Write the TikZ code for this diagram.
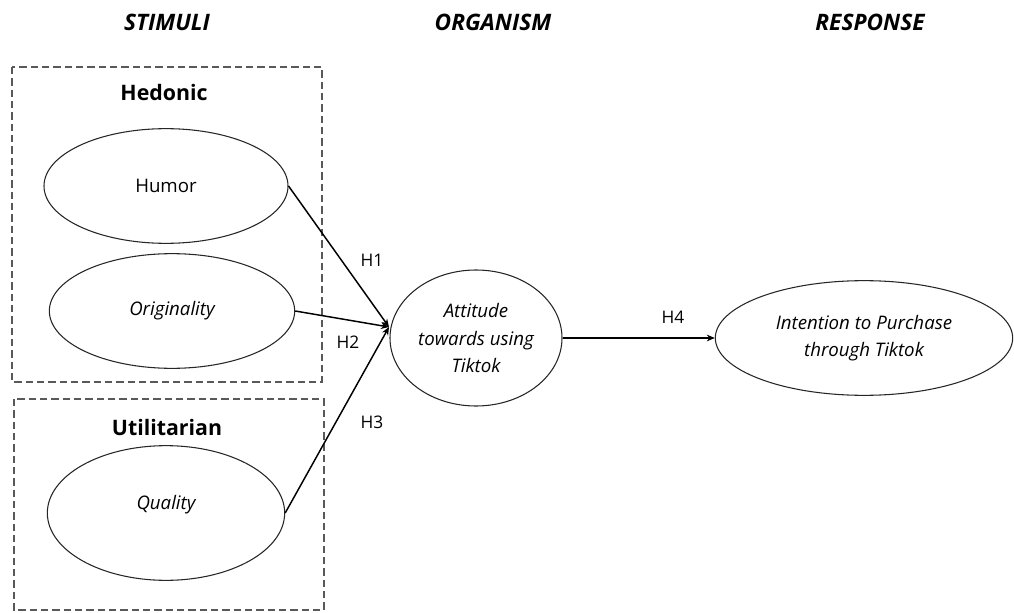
\documentclass[tikz,border=0pt]{standalone}
\usepackage{fontspec}
\setmainfont{Open Sans}
\usetikzlibrary{shapes.geometric,arrows.meta}
\tikzset{
  construct/.style={ellipse,draw=black!85,line width=0.8pt,inner sep=0pt,
    align=center,font=\fontsize{14}{20.6}\selectfont},
  group/.style={draw=black!65,line width=2.2pt,dash pattern=on 5.5pt off 3pt},
  grouptitle/.style={font=\fontsize{16}{19}\selectfont\bfseries},
  heading/.style={font=\fontsize{17}{20}\selectfont\bfseries\itshape},
  hyp/.style={font=\fontsize{13}{16}\selectfont},
  path/.style={-{Stealth[length=6pt,width=5pt]},line width=1.1pt}
}
\begin{document}
\begin{tikzpicture}[x=0.75pt,y=-0.75pt]
      \useasboundingbox (0,0) rectangle (1014,613);
      % headings
      \node[heading] (stim) at (167,22) {STIMULI};
      \node[heading] (org) at (493,22) {ORGANISM};
      \node[heading] (resp) at (870,22) {RESPONSE};
      % groups
      \draw[group] (12,67) rectangle (322,382);
      \draw[group] (14,399) rectangle (324,610);
      \node[grouptitle] (hed) at (164,93) {Hedonic};
      \node[grouptitle] (util) at (167,427) {Utilitarian};
      % constructs
      \node[construct,minimum width=183pt,minimum height=86pt] (humor) at (166,186) {Humor};
      \node[construct,minimum width=184pt,minimum height=86pt] (orig) at (172,311) {\itshape Originality};
      \node[construct,minimum width=178pt,minimum height=101pt,text depth=16pt] (qual) at (166,513) {\itshape Quality};
      \node[construct,minimum width=129pt,minimum height=102pt] (att) at (476,338) {\itshape Attitude\\ \itshape towards using\\ \itshape Tiktok};
      \node[construct,minimum width=223pt,minimum height=86pt] (int) at (864,338) {\itshape Intention to Purchase\\ \itshape through Tiktok};
      \coordinate (hub) at (389,327);
      % paths
      \draw[path] (humor.east) -- (hub);
      \draw[path] (orig.east) -- (hub);
      \draw[path] (qual.east) -- (hub);
      \draw[path] (att.east) -- (int.west);
      \node[hyp] (h1) at (372,260) {H1};
      \node[hyp] (h2) at (348,342) {H2};
      \node[hyp] (h3) at (372,422) {H3};
      \node[hyp] (h4) at (673,317) {H4};
    \end{tikzpicture}
\end{document}
